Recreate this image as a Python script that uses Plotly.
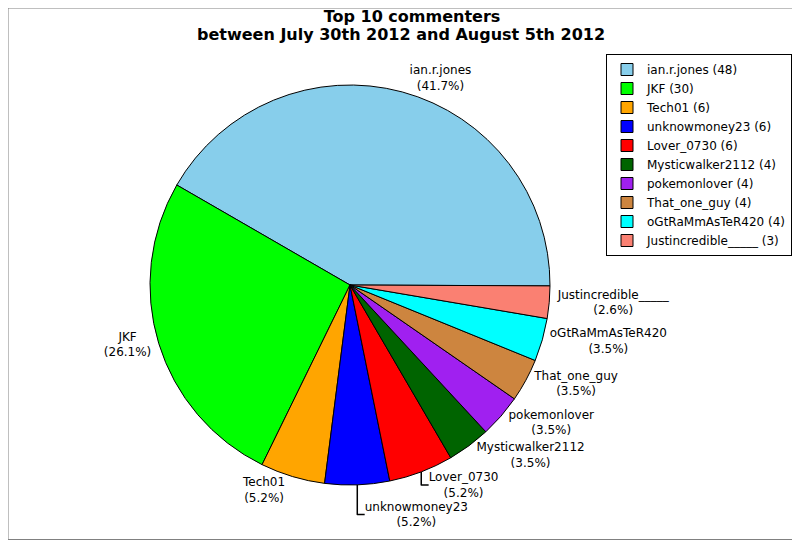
import plotly.graph_objects as go

# top 10 commenters, comment counts
names = ['ian.r.jones', 'JKF', 'Tech01', 'unknowmoney23', 'Lover_0730',
         'Mysticwalker2112', 'pokemonlover', 'That_one_guy', 'oGtRaMmAsTeR420',
         'Justincredible_____']
counts = [48, 30, 6, 6, 6, 4, 4, 4, 4, 3]
colors = ['#87CEEB', '#00FF00', '#FFA500', '#0000FF', '#FF0000',
          '#006400', '#A020F0', '#CD853F', '#00FFFF', '#FA8072']

legend_labels = ['%s (%d)' % (n, c) for n, c in zip(names, counts)]

# page body has an 8px margin, so place things 8px up/left of the target
W, H = 800, 540
off = 8

fig = go.Figure()

fig.add_trace(go.Pie(
    labels=legend_labels,
    values=counts,
    text=names,
    texttemplate='%{text}<br>(%{percent:.1%})',
    textposition='outside',
    textfont=dict(size=12, color='black'),
    marker=dict(colors=colors, line=dict(color='black', width=1)),
    sort=False,
    direction='counterclockwise',
    rotation=-60,   # first slice runs ccw from 3 o'clock
    domain=dict(x=[(150 - off) / W, (550 - off) / W],
                y=[1 - (485 - off) / H, 1 - (85 - off) / H]),
    hoverinfo='label+percent',
))

fig.update_layout(
    width=W,
    height=H,
    margin=dict(l=0, r=0, t=0, b=0),
    paper_bgcolor='white',
    font=dict(family='DejaVu Sans', size=12, color='black'),
    title=dict(
        text='<b>Top 10 commenters</b>',
        x=(412 - off) / W, xanchor='center', y=1 - 3 / H, yanchor='top',
        font=dict(size=16, color='black'),
    ),
    legend=dict(
        x=(792 - off) / W, xanchor='right', y=1 - (54 - off) / H, yanchor='top',
        bgcolor='white', bordercolor='black', borderwidth=1,
        font=dict(size=12),
        itemclick=False,
    ),
    shapes=[dict(type='rect', xref='paper', yref='paper',
                 x0=0, x1=(W - off - 0.5) / W, y0=1 - (H - off - 0.5) / H, y1=1,
                 line=dict(color='gray', width=1))],
)

# second title line, kept tight under the first like the original
fig.add_annotation(
    text='<b>between July 30th 2012 and August 5th 2012</b>',
    xref='paper', yref='paper',
    x=(401 - off) / W, y=1 - 26 / H, xanchor='center', yanchor='middle',
    showarrow=False, font=dict(size=16, color='black'),
)

fig.write_html('out.html')
